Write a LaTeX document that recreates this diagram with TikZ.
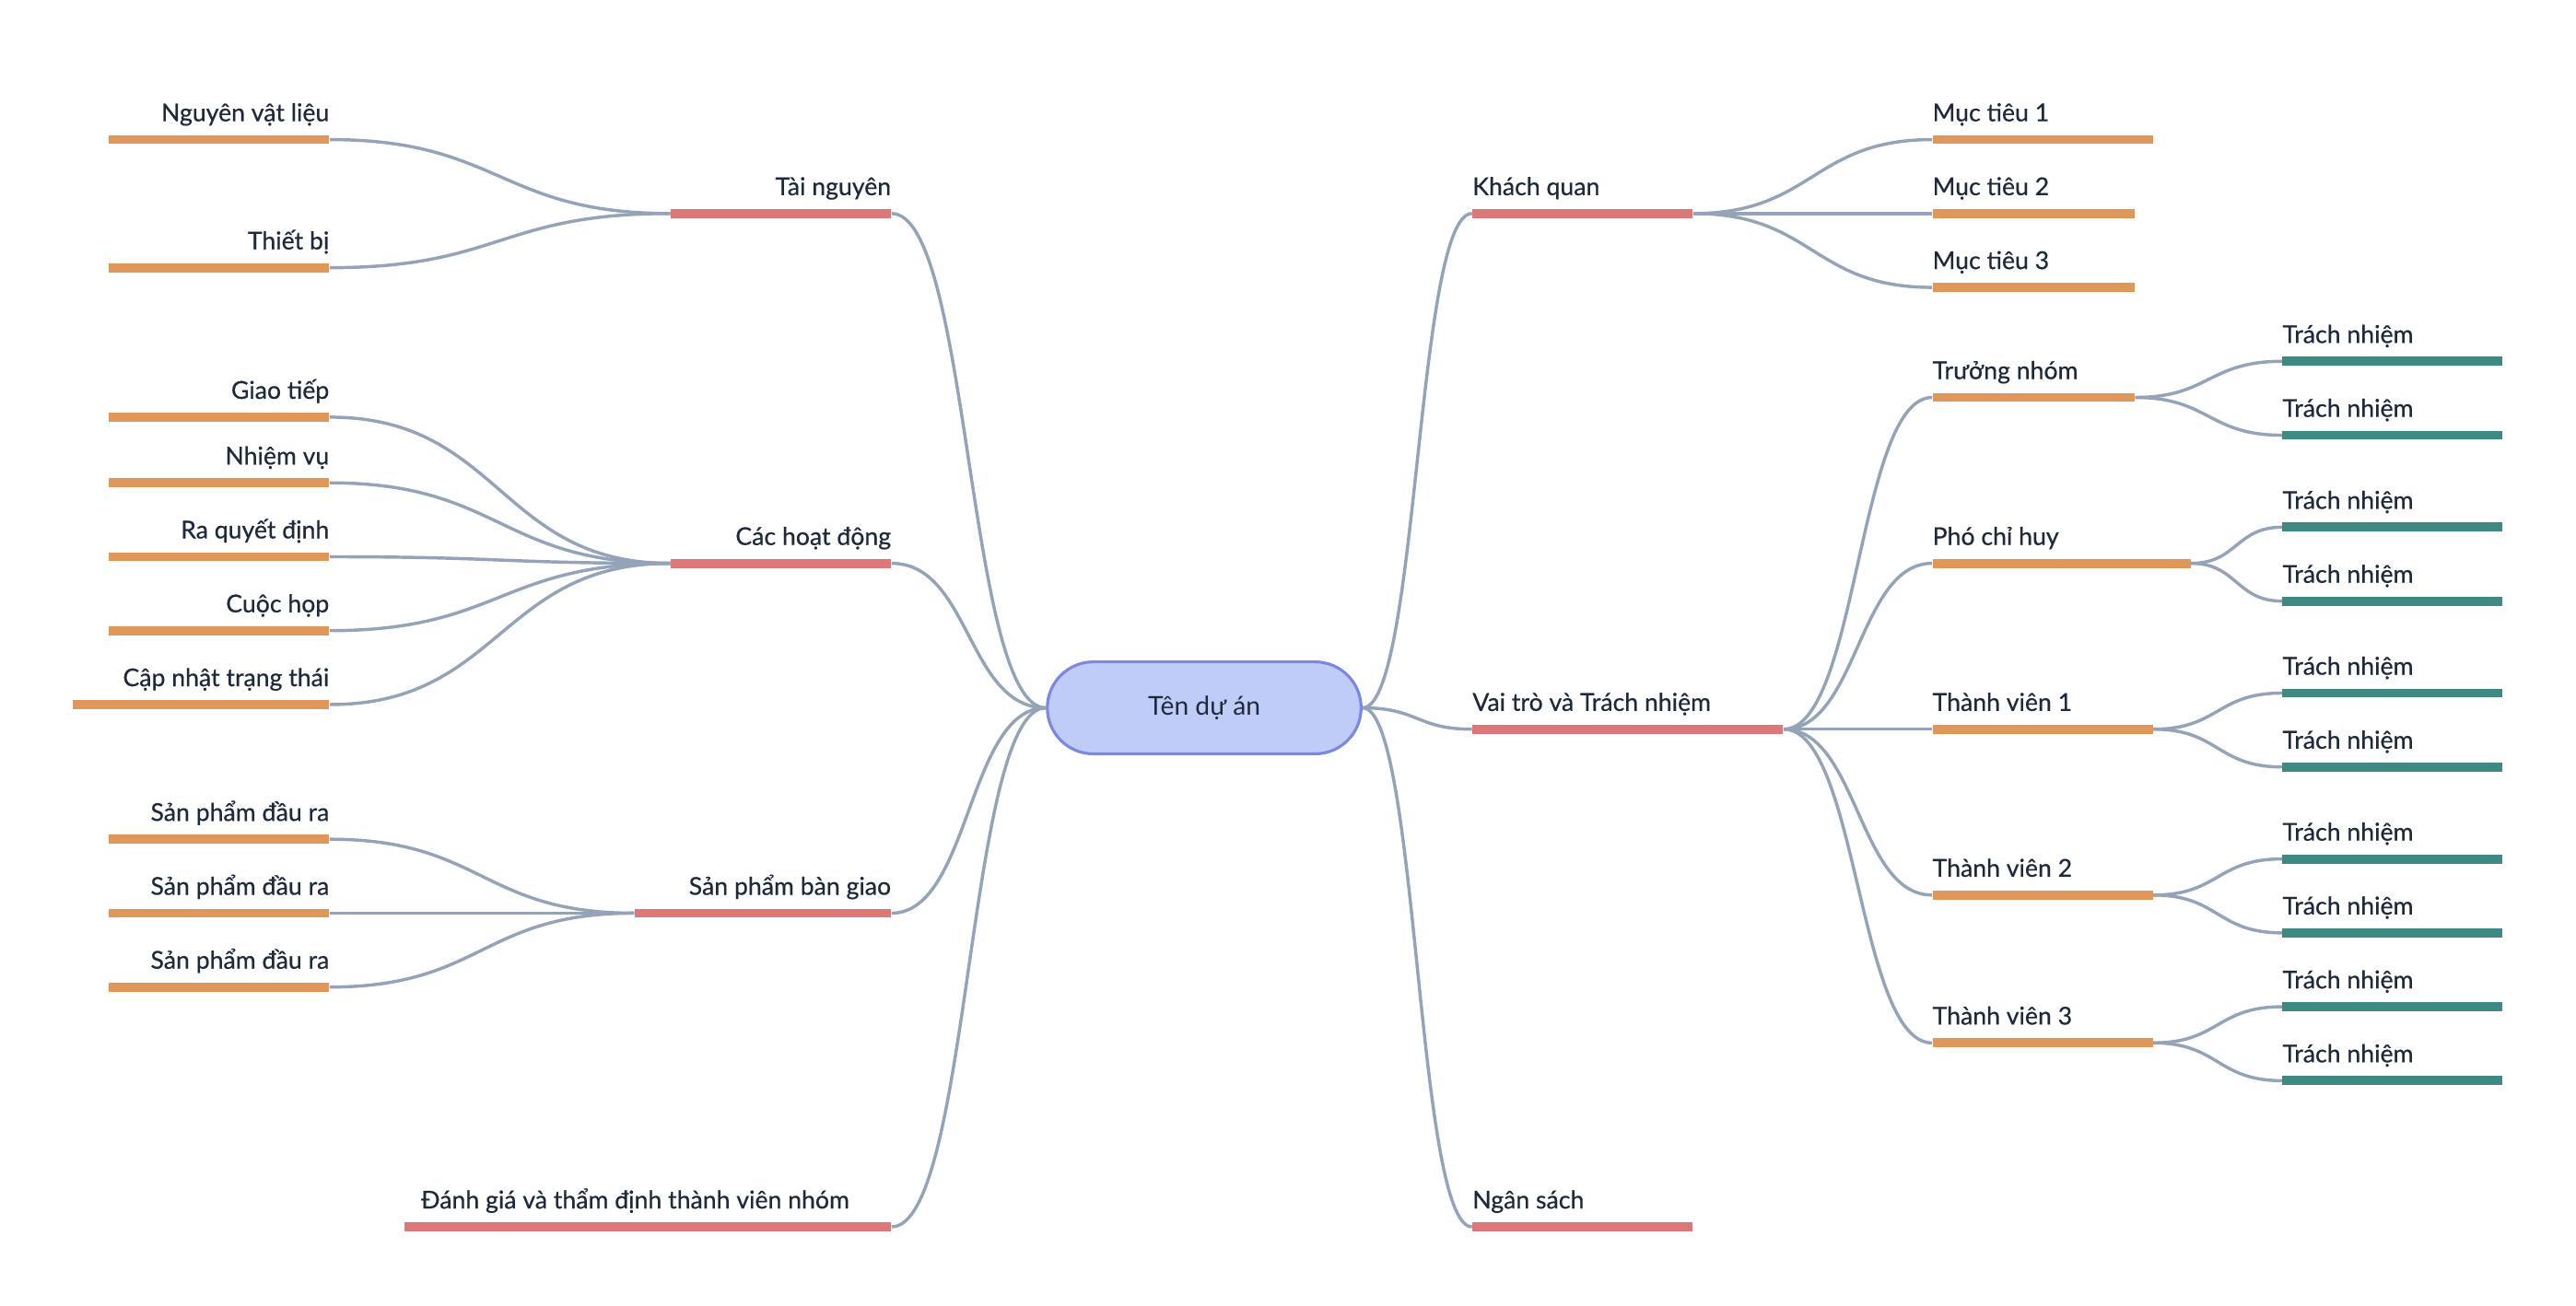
\documentclass[tikz,border=0pt]{standalone}
\usepackage{fontspec}
\setmainfont{Lato}
\newfontfamily\lblfont{Lato}[FakeBold=0.5]
\usepackage{xcolor}
\usetikzlibrary{positioning}

\definecolor{inktext}{HTML}{1E293B}
\definecolor{linkgray}{HTML}{94A3B8}
\definecolor{mainred}{HTML}{DC7878}
\definecolor{suborange}{HTML}{E0975A}
\definecolor{leafteal}{HTML}{3E8A82}
\definecolor{rootfill}{HTML}{C0CCF8}
\definecolor{rootline}{HTML}{7B87E0}

\begin{document}
\begin{tikzpicture}[
    x=0.2mm, y=-0.2mm,
    bar/.style={rectangle, inner sep=0pt, minimum height=0.11cm, anchor=west},
    mainbar/.style={bar, fill=mainred},
    subbar/.style={bar, fill=suborange},
    leafbar/.style={bar, fill=leafteal, minimum width=2.68cm},
    lbl/.style={font=\lblfont\fontsize{8.5}{10}\selectfont, text=inktext, inner sep=0pt, yshift=4.6pt},
    link/.style={draw=linkgray, line width=1.1pt},
]
    \useasboundingbox (0,0) rectangle (1568,795);

    % centre
    \node[draw=rootline, fill=rootfill, line width=1pt, rounded corners=0.56cm,
          minimum width=3.82cm, minimum height=1.12cm, text=inktext,
          font=\fontsize{9}{11}\selectfont] (root) at (733,431) {Tên dự án};

    % left main branches
    \node[mainbar, minimum width=2.68cm, label={[lbl,anchor=base east]north east:Tài nguyên}] (tai) at (408,130) {};
    \node[mainbar, minimum width=2.68cm, label={[lbl,anchor=base east]north east:Các hoạt động}] (hoat) at (408,343) {};
    \node[mainbar, minimum width=3.12cm, label={[lbl,anchor=base east]north east:Sản phẩm bàn giao}] (spbg) at (386,556) {};
    \node[mainbar, minimum width=5.92cm, label={[lbl,anchor=base west,xshift=0.2cm]north west:Đánh giá và thẩm định thành viên nhóm}] (danh) at (246,747) {};

    % right main branches
    \node[mainbar, minimum width=2.68cm, label={[lbl,anchor=base west]north west:Khách quan}] (khach) at (896,130) {};
    \node[mainbar, minimum width=3.78cm, label={[lbl,anchor=base west]north west:Vai trò và Trách nhiệm}] (vaitro) at (896,444) {};
    \node[mainbar, minimum width=2.68cm, label={[lbl,anchor=base west]north west:Ngân sách}] (ngan) at (896,747) {};

    % Tài nguyên
    \node[subbar, minimum width=2.68cm, label={[lbl,anchor=base east]north east:Nguyên vật liệu}] (nvl) at (66,85) {};
    \node[subbar, minimum width=2.68cm, label={[lbl,anchor=base east]north east:Thiết bị}] (tbi) at (66,163) {};

    % Các hoạt động
    \node[subbar, minimum width=2.68cm, label={[lbl,anchor=base east]north east:Giao tiếp}] (gtiep) at (66,254) {};
    \node[subbar, minimum width=2.68cm, label={[lbl,anchor=base east]north east:Nhiệm vụ}] (nvu) at (66,294) {};
    \node[subbar, minimum width=2.68cm, label={[lbl,anchor=base east]north east:Ra quyết định}] (rqd) at (66,339) {};
    \node[subbar, minimum width=2.68cm, label={[lbl,anchor=base east]north east:Cuộc họp}] (chop) at (66,384) {};
    \node[subbar, minimum width=3.12cm, label={[lbl,anchor=base east]north east:Cập nhật trạng thái}] (cntt) at (44,429) {};

    % Sản phẩm bàn giao
    \node[subbar, minimum width=2.68cm, label={[lbl,anchor=base east]north east:Sản phẩm đầu ra}] (sp1) at (66,511) {};
    \node[subbar, minimum width=2.68cm, label={[lbl,anchor=base east]north east:Sản phẩm đầu ra}] (sp2) at (66,556) {};
    \node[subbar, minimum width=2.68cm, label={[lbl,anchor=base east]north east:Sản phẩm đầu ra}] (sp3) at (66,601) {};

    % Khách quan
    \node[subbar, minimum width=2.68cm, label={[lbl,anchor=base west]north west:Mục tiêu 1}] (mt1) at (1176,85) {};
    \node[subbar, minimum width=2.46cm, label={[lbl,anchor=base west]north west:Mục tiêu 2}] (mt2) at (1176,130) {};
    \node[subbar, minimum width=2.46cm, label={[lbl,anchor=base west]north west:Mục tiêu 3}] (mt3) at (1176,175) {};

    % Vai trò và Trách nhiệm
    \node[subbar, minimum width=2.46cm, label={[lbl,anchor=base west]north west:Trưởng nhóm}] (truong) at (1176,242) {};
    \node[subbar, minimum width=3.14cm, label={[lbl,anchor=base west]north west:Phó chỉ huy}] (pho) at (1176,343) {};
    \node[subbar, minimum width=2.68cm, label={[lbl,anchor=base west]north west:Thành viên 1}] (tv1) at (1176,444) {};
    \node[subbar, minimum width=2.68cm, label={[lbl,anchor=base west]north west:Thành viên 2}] (tv2) at (1176,545) {};
    \node[subbar, minimum width=2.68cm, label={[lbl,anchor=base west]north west:Thành viên 3}] (tv3) at (1176,635) {};

    % Trách nhiệm
    \foreach \n/\y in {tn1/220, tn2/265, tn3/321, tn4/366, tn5/422, tn6/467, tn7/523, tn8/568, tn9/613, tn10/658}
        \node[leafbar, label={[lbl,anchor=base west]north west:Trách nhiệm}] (\n) at (1389,\y) {};

    % connectors
    \foreach \b in {tai, hoat, spbg, danh}
        \draw[link] (\b.east) .. controls +(48,0) and +(-48,0) .. (root.west);
    \foreach \b in {khach, vaitro, ngan}
        \draw[link] (root.east) .. controls +(34,0) and +(-34,0) .. (\b.west);
    \foreach \c in {nvl, tbi}
        \draw[link] (\c.east) .. controls +(104,0) and +(-104,0) .. (tai.west);
    \foreach \c in {gtiep, nvu, rqd, chop, cntt}
        \draw[link] (\c.east) .. controls +(104,0) and +(-104,0) .. (hoat.west);
    \foreach \c in {sp1, sp2, sp3}
        \draw[link] (\c.east) .. controls +(93,0) and +(-93,0) .. (spbg.west);
    \foreach \c in {mt1, mt2, mt3}
        \draw[link] (khach.east) .. controls +(73,0) and +(-73,0) .. (\c.west);
    \foreach \c in {truong, pho, tv1, tv2, tv3}
        \draw[link] (vaitro.east) .. controls +(45,0) and +(-45,0) .. (\c.west);
    \foreach \p/\a/\b/\d in {truong/tn1/tn2/45, pho/tn3/tn4/28, tv1/tn5/tn6/40, tv2/tn7/tn8/40, tv3/tn9/tn10/40} {
        \draw[link] (\p.east) .. controls +(\d,0) and +(-\d,0) .. (\a.west);
        \draw[link] (\p.east) .. controls +(\d,0) and +(-\d,0) .. (\b.west);
    }
\end{tikzpicture}
\end{document}
